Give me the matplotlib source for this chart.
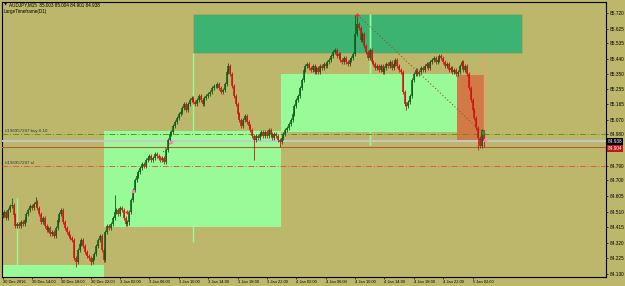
import matplotlib.pyplot as plt
from matplotlib.patches import Rectangle
import matplotlib.transforms as mtransforms

# AUDJPY M15 closes, one per bar from 30 Dec 10:00
closes = [
    84.489, 84.507, 84.471, 84.520, 84.544, 84.550, 84.489, 84.422, 84.434, 84.422,
    84.447, 84.434, 84.459, 84.495, 84.520, 84.544, 84.532, 84.556, 84.568, 84.532,
    84.495, 84.447, 84.471, 84.422, 84.398, 84.410, 84.373, 84.386, 84.361, 84.410,
    84.459, 84.495, 84.520, 84.447, 84.410, 84.386, 84.361, 84.349, 84.337, 84.227,
    84.203, 84.276, 84.313, 84.337, 84.300, 84.264, 84.239, 84.227, 84.203, 84.227,
    84.252, 84.300, 84.337, 84.361, 84.276, 84.215,
    84.386, 84.422, 84.410, 84.434, 84.471, 84.507, 84.520, 84.495, 84.532, 84.520,
    84.471, 84.434, 84.447,
    84.507, 84.581, 84.642, 84.702, 84.727, 84.751, 84.776, 84.800, 84.788, 84.824,
    84.836, 84.849, 84.824, 84.836, 84.861, 84.849, 84.836, 84.824, 84.836, 84.812,
    84.885, 84.946, 84.983,
    84.995, 85.031, 85.056, 85.080, 85.105, 85.117, 85.141, 85.165, 85.129, 85.165,
    85.190, 85.202, 85.178, 85.165, 85.190, 85.214, 85.190, 85.165, 85.202, 85.214,
    85.226, 85.239, 85.263, 85.275, 85.275, 85.287, 85.263, 85.239, 85.251, 85.287,
    85.360, 85.397, 85.348, 85.275, 85.214, 85.165, 85.105, 85.068, 85.031,
    85.068, 85.092, 85.056, 85.031, 85.007, 84.970, 84.946, 84.970, 84.958, 84.983,
    84.995, 84.970, 84.995, 84.970, 85.007, 84.983, 84.958, 84.983, 84.970, 84.946,
    84.934, 84.958, 84.983, 85.007, 85.019, 85.044,
    85.068, 85.105, 85.153, 85.190, 85.214, 85.263, 85.312, 85.373, 85.397, 85.409,
    85.385, 85.373, 85.397, 85.360, 85.385, 85.360, 85.397, 85.385, 85.409, 85.397,
    85.421, 85.433, 85.458, 85.482, 85.494, 85.458, 85.470, 85.433, 85.421, 85.446,
    85.421, 85.409, 85.433, 85.446, 85.470, 85.592, 85.653,
    85.628, 85.555, 85.592, 85.519, 85.482, 85.446, 85.494, 85.421, 85.409, 85.385,
    85.397, 85.373, 85.397, 85.360, 85.385, 85.409, 85.397, 85.421, 85.385, 85.409,
    85.433, 85.397, 85.373, 85.360, 85.239, 85.165, 85.153, 85.178, 85.214, 85.312,
    85.348, 85.373, 85.348, 85.360, 85.385, 85.373, 85.397, 85.409, 85.385, 85.421,
    85.433, 85.446, 85.421, 85.433, 85.458, 85.446, 85.421, 85.397, 85.409, 85.373,
    85.385, 85.360, 85.373, 85.348, 85.360, 85.397, 85.421, 85.373, 85.397, 85.348,
    85.263, 85.190, 85.129, 85.080, 85.019, 84.958, 84.910, 85.003, 84.938,
]
first_open = 84.480
# bars whose wick reaches well beyond the body
wick_hi = {5: 84.593, 18: 84.600, 61: 84.611, 91: 85.001, 123: 85.415,
           192: 85.708, 193: 85.700, 262: 85.004}
wick_lo = {40: 84.172, 48: 84.185, 69: 84.428, 137: 84.824, 151: 84.904,
           220: 85.129, 259: 84.885, 262: 84.901}

tick_labels = ['30 Dec 2016', '30 Dec 14:00', '30 Dec 18:00', '30 Dec 22:00',
               '3 Jan 02:00', '3 Jan 06:00', '3 Jan 10:00', '3 Jan 14:00',
               '3 Jan 18:00', '3 Jan 22:00', '4 Jan 02:00', '4 Jan 06:00',
               '4 Jan 10:00', '4 Jan 14:00', '4 Jan 18:00', '4 Jan 22:00',
               '5 Jan 02:00']
tick_bars = [16 * i for i in range(len(tick_labels))]
price_ticks = [85.720, 85.625, 85.535, 85.440, 85.350, 85.255, 85.165, 85.070,
               84.980, 84.790, 84.700, 84.605, 84.510, 84.415, 84.320, 84.225,
               84.130]

# LargeTimeframe(D1) boxes
day_start = [-1.0, 55.5, 151.5, 247.5]
day_end = [55.5, 151.5, 247.5, 262.5]
day_open = [84.000, 84.416, 84.995, 85.342]
day_close = [84.185, 85.001, 85.348, 84.940]
day_high = [84.593, 85.476, 85.714, 85.452]
day_low = [84.000, 84.325, 84.916, 84.934]
day_mid = [7.6, 103.5, 199.9, 262.0]
zone_bars = [103.5, 282.7]
zone_prices = [85.476, 85.714]

trend_bars = [193.4, 261.5]
trend_prices = [85.708, 84.989]

buy_price = 84.983
sl_price = 84.788
bid_price = 84.938
red_line = 84.904

bg = '#bdb76b'
fig = plt.figure(figsize=(6.25, 2.86), dpi=100, facecolor=bg)
ax = fig.add_axes([2 / 625, 9 / 286, 604 / 625, 275 / 286], facecolor=bg)
ax.set_xlim(-0.3, 328.7)
ax.set_ylim(84.112, 85.787)

# day boxes
for s, e, o, c, h, l, m in zip(day_start, day_end, day_open, day_close,
                                day_high, day_low, day_mid):
    col = '#98fb98' if c >= o else '#d27a45'
    wcol = '#98fb98' if c >= o else '#e8a070'
    ax.add_patch(Rectangle((s, min(o, c)), e - s, abs(c - o), facecolor=col,
                           edgecolor='none', zorder=1))
    ax.vlines(m, l, h, color=wcol, lw=1.0, zorder=3)
ax.add_patch(Rectangle((zone_bars[0], zone_prices[0]), zone_bars[1] - zone_bars[0],
                       zone_prices[1] - zone_prices[0], facecolor='#3cb371',
                       edgecolor='#c9a05a', lw=0.5, zorder=2))
ax.vlines(day_mid[2], day_low[2], day_high[2], color='#98fb98', lw=1.0, zorder=2.5)

# order lines
ax.axhline(buy_price, color='#5f8f2f', lw=0.7, ls=(0, (6, 2, 1, 2)), zorder=4)
ax.axhline(bid_price, color='#c8c8c8', lw=1.4, zorder=4)
ax.axhline(red_line, color='#b0603a', lw=0.8, zorder=4)
ax.axhline(sl_price, color='#e05a4a', lw=0.7, ls=(0, (6, 2, 1, 2)), zorder=4)
ax.text(1.5, buy_price + 0.006, '#196957297 buy 0.10', fontsize=3.2,
        family='Liberation Sans', color='#333333', va='bottom', zorder=6)
ax.text(1.5, sl_price + 0.006, '#196957297 sl', fontsize=3.2,
        family='Liberation Sans', color='#333333', va='bottom', zorder=6)

# candles
opens = [first_open] + closes[:-1]
for i, (o, c) in enumerate(zip(opens, closes)):
    col = '#0d5a16' if c >= o else '#d01010'
    hi = wick_hi.get(i, max(o, c) + 0.011)
    lo = wick_lo.get(i, min(o, c) - 0.011)
    ax.vlines(i, lo, hi, color=col, lw=0.6, zorder=5)
    ax.vlines(i, min(o, c), max(o, c) + 0.002, color=col, lw=1.1, zorder=5)

ax.plot(trend_bars, trend_prices, color='#a0522d', lw=0.8, ls=(0, (1, 2)), zorder=6)
ax.plot([87.5, 91.5], [84.873, 84.928], color='#d02020', lw=0.8, ls=(0, (1, 2)), zorder=6)
ax.plot([68, 86, 193], [84.507, 84.836, 85.708], '+', color='#ff2020', ms=3, mew=1, zorder=7)
ax.plot([71, 91.5, 262.8], [84.636, 84.934, 84.946], 's', color='#ff80c0', ms=1.5, zorder=7)
ax.plot([261.5], [84.995], '^', color='#20a020', ms=2, zorder=7)

# axes
for sp in ax.spines.values():
    sp.set_color('black')
    sp.set_linewidth(0.8)
ax.yaxis.tick_right()
ax.set_yticks(price_ticks)
ax.set_yticklabels(['%.3f' % p for p in price_ticks])
ax.set_xticks(tick_bars)
ax.set_xticklabels(tick_labels)
ax.tick_params(axis='both', length=1.5, width=0.5, pad=1, labelsize=3.4,
               colors='black')
ax.tick_params(axis='x', labelsize=2.9)
for lab in ax.get_xticklabels():
    lab.set_ha('left')
    lab.set_family('Liberation Sans')
for lab in ax.get_yticklabels():
    lab.set_family('Liberation Sans')

# current price labels
trans = mtransforms.blended_transform_factory(ax.transAxes, ax.transData)
ax.text(1.003, bid_price, '84.938', transform=trans, fontsize=3.4, color='white',
        family='Liberation Sans', va='center', ha='left', zorder=8,
        bbox=dict(boxstyle='square,pad=0.15', fc='black', ec='none'))
ax.text(1.003, red_line - 0.010, '84.904', transform=trans, fontsize=3.4, color='white',
        family='Liberation Sans', va='center', ha='left', zorder=8,
        bbox=dict(boxstyle='square,pad=0.15', fc='#c01818', ec='none'))

# header
fig.text(4 / 625, 1 - 5 / 286, '\u25bc', fontsize=3, color='black', va='center')
fig.text(9 / 625, 1 - 5 / 286, 'AUDJPY,M15  85.003 85.004 84.901 84.938', fontsize=3.3,
         family='Liberation Sans', color='black', va='center')
fig.text(4 / 625, 1 - 11 / 286, 'LargeTimeframe(D1)', fontsize=3.3,
         family='Liberation Sans', color='black', va='center')

fig.savefig('out.png', dpi=100, facecolor=bg)
